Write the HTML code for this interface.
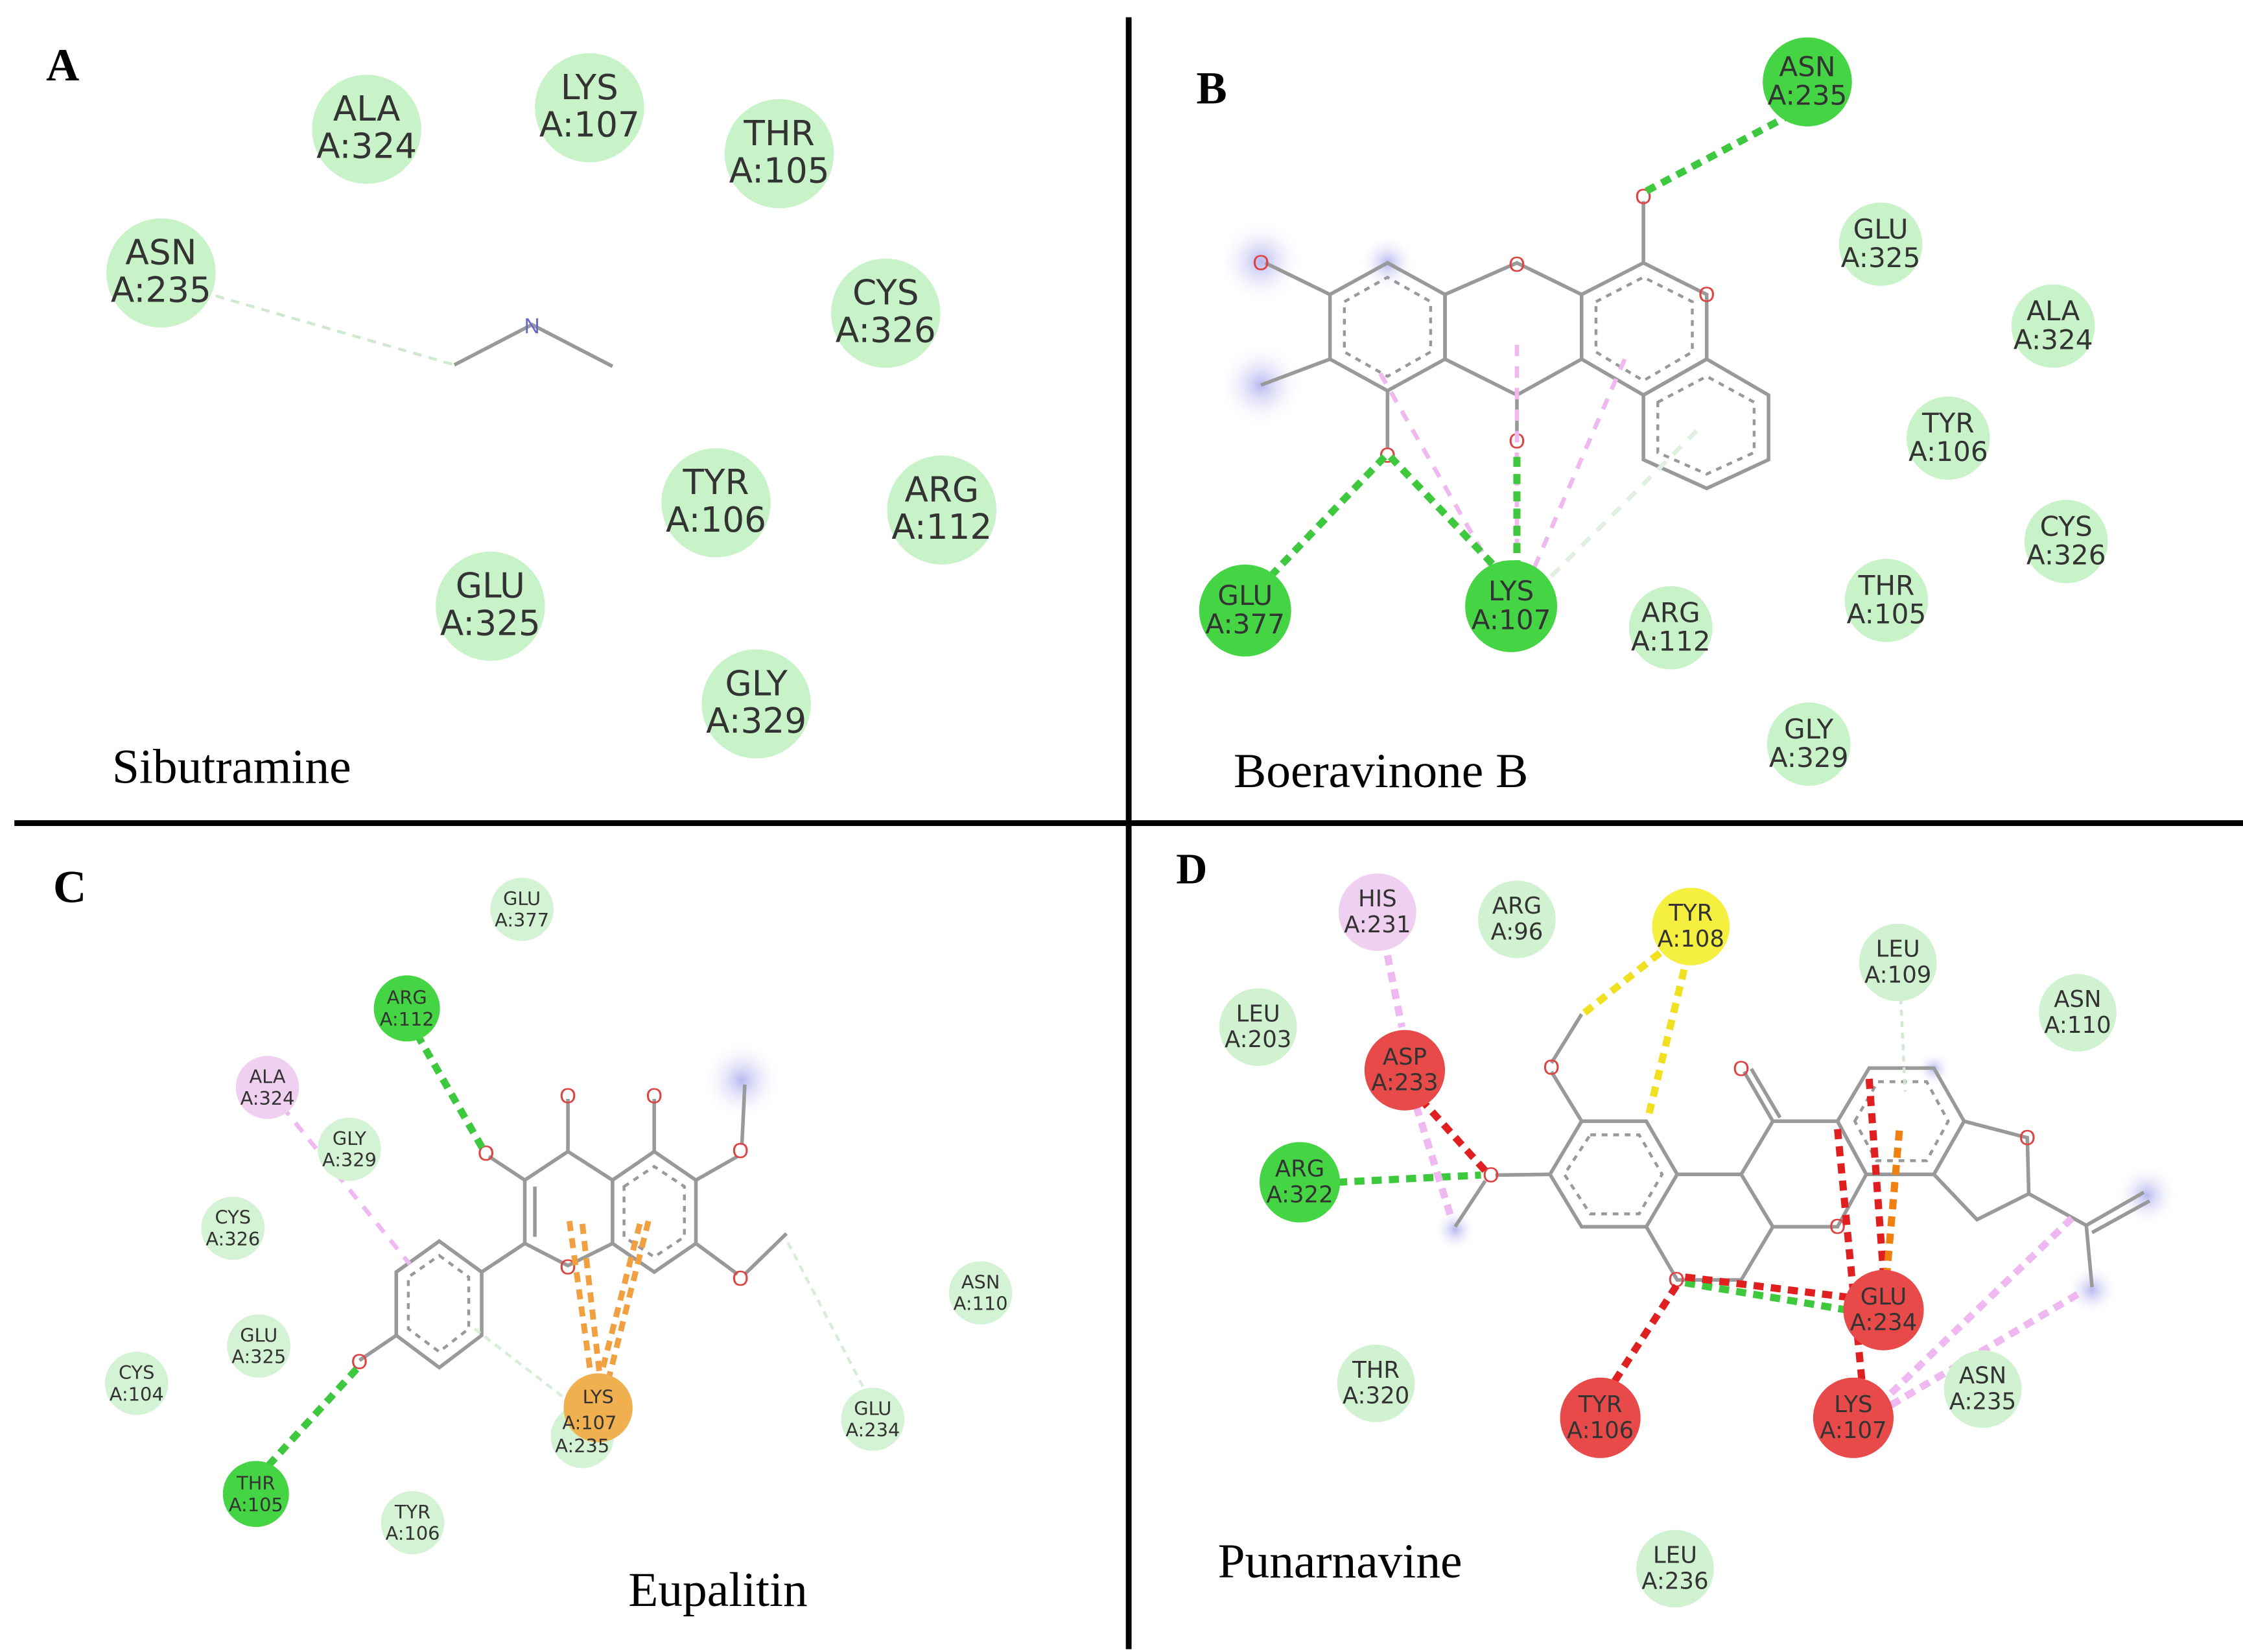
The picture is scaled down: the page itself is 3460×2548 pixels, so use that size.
<!DOCTYPE html>
<html><head><meta charset="utf-8">
<style>
html,body{margin:0;padding:0;background:#fff;}
svg{display:block;}
.t{font-family:"DejaVu Sans","Liberation Sans",sans-serif;fill:#333;text-anchor:middle;}
.lab{font-family:"Liberation Serif",serif;fill:#000;}
.b{stroke:#999;stroke-width:2.5;fill:none;}
.d{stroke:#999;stroke-width:2;fill:none;stroke-dasharray:4 4;}
.o{font-family:"Liberation Sans",sans-serif;fill:#d44;font-size:15px;text-anchor:middle;}
</style></head><body>
<svg width="3460" height="2548" viewBox="0 0 1560 1150" preserveAspectRatio="none" xmlns="http://www.w3.org/2000/svg">
<defs>
<radialGradient id="blu"><stop offset="0" stop-color="#b8b8f0"/><stop offset="1" stop-color="#fff" stop-opacity="0"/></radialGradient>
</defs>
<rect width="1560" height="1150" fill="#fff"/>
<line x1="785" y1="12" x2="785" y2="1148" stroke="#000" stroke-width="4"/>
<line x1="10" y1="573" x2="1560" y2="573" stroke="#000" stroke-width="4"/>

<!-- Panel A -->
<text class="lab" x="32" y="56" font-size="32" font-weight="bold">A</text>
<line x1="150" y1="206" x2="316" y2="254" stroke="#cfe8cf" stroke-width="2" stroke-dasharray="6 5"/>
<polyline points="316,254 370,226 426,255" class="b" stroke="#9a9ac8"/>
<text x="370" y="232" font-size="15" fill="#66c" text-anchor="middle" font-family="Liberation Sans">N</text>
<g font-size="24" class="t">
<circle cx="255" cy="90" r="38" fill="#c8f2c8"/><text x="255" y="84">ALA</text><text x="255" y="110">A:324</text>
<circle cx="410" cy="75" r="38" fill="#c8f2c8"/><text x="410" y="69">LYS</text><text x="410" y="95">A:107</text>
<circle cx="542" cy="107" r="38" fill="#c8f2c8"/><text x="542" y="101">THR</text><text x="542" y="127">A:105</text>
<circle cx="112" cy="190" r="38" fill="#c8f2c8"/><text x="112" y="184">ASN</text><text x="112" y="210">A:235</text>
<circle cx="616" cy="218" r="38" fill="#c8f2c8"/><text x="616" y="212">CYS</text><text x="616" y="238">A:326</text>
<circle cx="498" cy="350" r="38" fill="#c8f2c8"/><text x="498" y="344">TYR</text><text x="498" y="370">A:106</text>
<circle cx="655" cy="355" r="38" fill="#c8f2c8"/><text x="655" y="349">ARG</text><text x="655" y="375">A:112</text>
<circle cx="341" cy="422" r="38" fill="#c8f2c8"/><text x="341" y="416">GLU</text><text x="341" y="442">A:325</text>
<circle cx="526" cy="490" r="38" fill="#c8f2c8"/><text x="526" y="484">GLY</text><text x="526" y="510">A:329</text>
</g>
<text class="lab" x="78" y="545" font-size="34">Sibutramine</text>

<!-- Panel B -->
<text class="lab" x="832" y="72" font-size="32" font-weight="bold">B</text>
<circle cx="877" cy="182" r="30" fill="url(#blu)"/><circle cx="965" cy="183" r="20" fill="url(#blu)"/><circle cx="877" cy="268" r="30" fill="url(#blu)"/>
<polygon points="925,205 965,183 1005,205 1005,250 965,272 925,250" class="b"/>
<polygon points="1005,205 1055,183 1100,205 1100,250 1055,275 1005,250" class="b"/>
<polygon points="1100,205 1143,183 1187,205 1187,250 1143,275 1100,250" class="b"/>
<polygon points="1187,250 1230,275 1230,320 1187,340 1143,320 1143,275" class="b"/>
<polygon points="935,210 965,193 995,210 995,245 965,262 935,245" class="d"/>
<polygon points="1110,210 1143,193 1177,210 1177,245 1143,265 1110,245" class="d"/>
<polygon points="1153,280 1187,262 1220,280 1220,315 1187,330 1153,315" class="d"/>
<line x1="925" y1="205" x2="880" y2="183" class="b"/><line x1="925" y1="250" x2="877" y2="268" class="b"/>
<line x1="965" y1="272" x2="965" y2="312" class="b"/><line x1="1055" y1="275" x2="1055" y2="305" class="b"/>
<line x1="1143" y1="183" x2="1143" y2="140" class="b"/>
<text class="o" x="877" y="188">O</text><text class="o" x="1055" y="189">O</text><text class="o" x="1187" y="210">O</text>
<text class="o" x="965" y="322">O</text><text class="o" x="1055" y="312">O</text><text class="o" x="1143" y="142">O</text>
<g stroke="#f0b8f0" stroke-width="3" stroke-dasharray="8 7">
<line x1="960" y1="260" x2="1040" y2="400"/><line x1="1055" y1="240" x2="1055" y2="395"/><line x1="1130" y1="250" x2="1065" y2="400"/>
</g>
<line x1="1180" y1="300" x2="1075" y2="405" stroke="#dff0df" stroke-width="3" stroke-dasharray="8 7"/>
<g stroke="#3ec83e" stroke-width="5" stroke-dasharray="7 5">
<line x1="963" y1="318" x2="880" y2="405"/><line x1="967" y1="318" x2="1045" y2="400"/><line x1="1055" y1="318" x2="1055" y2="395"/><line x1="1145" y1="133" x2="1245" y2="80"/>
</g>
<g font-size="19" class="t">
<circle cx="1257" cy="57" r="31" fill="#44d444"/><text x="1257" y="53">ASN</text><text x="1257" y="73">A:235</text>
<circle cx="1308" cy="170" r="29" fill="#c8f2c8"/><text x="1308" y="166">GLU</text><text x="1308" y="186">A:325</text>
<circle cx="1428" cy="227" r="29" fill="#c8f2c8"/><text x="1428" y="223">ALA</text><text x="1428" y="243">A:324</text>
<circle cx="1355" cy="305" r="29" fill="#c8f2c8"/><text x="1355" y="301">TYR</text><text x="1355" y="321">A:106</text>
<circle cx="1437" cy="377" r="29" fill="#c8f2c8"/><text x="1437" y="373">CYS</text><text x="1437" y="393">A:326</text>
<circle cx="1312" cy="418" r="29" fill="#c8f2c8"/><text x="1312" y="414">THR</text><text x="1312" y="434">A:105</text>
<circle cx="1162" cy="437" r="29" fill="#c8f2c8"/><text x="1162" y="433">ARG</text><text x="1162" y="453">A:112</text>
<circle cx="1258" cy="518" r="29" fill="#c8f2c8"/><text x="1258" y="514">GLY</text><text x="1258" y="534">A:329</text>
<circle cx="866" cy="425" r="32" fill="#44d444"/><text x="866" y="421">GLU</text><text x="866" y="441">A:377</text>
<circle cx="1051" cy="422" r="32" fill="#44d444"/><text x="1051" y="418">LYS</text><text x="1051" y="438">A:107</text>
</g>
<text class="lab" x="858" y="548" font-size="34">Boeravinone  B</text>

<!-- Panel C -->
<text class="lab" x="37" y="628" font-size="32" font-weight="bold">C</text>
<circle cx="516" cy="752" r="28" fill="url(#blu)"/>
<polygon points="395,801.6 426,821.5 426,865.6 395,881 365,865.6 365,821.5" class="b"/>
<polygon points="426,821.5 455,801.6 484,821.5 484,865.6 455,885.5 426,865.6" class="b"/>
<polygon points="434,826 455,812 476,826 476,861 455,875 434,861" class="d"/>
<line x1="372" y1="826" x2="372" y2="861" class="b"/>
<polygon points="305.5,864 335,885.5 335,929.6 305.5,952 275.6,929.6 275.6,885.5" class="b"/>
<polygon points="305.5,874 326,889 326,925 305.5,941 284,925 284,889" class="d"/>
<line x1="335" y1="885.5" x2="365" y2="865.6" class="b"/>
<line x1="395" y1="801.6" x2="395" y2="765" class="b"/><line x1="455" y1="801.6" x2="455" y2="765" class="b"/>
<line x1="365" y1="821.5" x2="340" y2="805" class="b"/>
<line x1="484" y1="821.5" x2="513" y2="805" class="b"/><line x1="516" y1="797" x2="518" y2="755" class="b"/>
<line x1="484" y1="865.6" x2="513" y2="887" class="b"/><line x1="518" y1="887" x2="547" y2="858.7" class="b"/>
<line x1="275.6" y1="929.6" x2="250" y2="947" class="b"/>
<text class="o" x="395" y="768">O</text><text class="o" x="455" y="768">O</text><text class="o" x="338" y="808">O</text>
<text class="o" x="515" y="806">O</text><text class="o" x="515" y="895">O</text><text class="o" x="395" y="887">O</text><text class="o" x="250" y="953">O</text>
<g stroke="#f0a040" stroke-width="4" stroke-dasharray="7 5">
<line x1="396" y1="850" x2="412" y2="965"/><line x1="451" y1="850" x2="422" y2="965"/><line x1="405" y1="852" x2="418" y2="965"/><line x1="445" y1="852" x2="416" y2="965"/>
</g>
<line x1="196" y1="770" x2="285" y2="880" stroke="#f0b8f0" stroke-width="3" stroke-dasharray="8 7"/>
<line x1="548" y1="865" x2="600" y2="965" stroke="#d8ecd8" stroke-width="2" stroke-dasharray="5 4"/>
<line x1="330" y1="925" x2="395" y2="975" stroke="#d8ecd8" stroke-width="2" stroke-dasharray="5 4"/>
<g stroke="#3ec83e" stroke-width="5" stroke-dasharray="7 5">
<line x1="290" y1="720" x2="336" y2="800"/><line x1="248" y1="953" x2="185" y2="1022"/>
</g>
<g font-size="13" class="t">
<circle cx="363" cy="633" r="22" fill="#d4f2d4"/><text x="363" y="630">GLU</text><text x="363" y="645">A:377</text>
<circle cx="283" cy="702" r="23" fill="#44d444"/><text x="283" y="699">ARG</text><text x="283" y="714">A:112</text>
<circle cx="186" cy="757" r="22" fill="#f0d0f0"/><text x="186" y="754">ALA</text><text x="186" y="769">A:324</text>
<circle cx="243" cy="800" r="22" fill="#d4f2d4"/><text x="243" y="797">GLY</text><text x="243" y="812">A:329</text>
<circle cx="162" cy="855" r="22" fill="#d4f2d4"/><text x="162" y="852">CYS</text><text x="162" y="867">A:326</text>
<circle cx="180" cy="937" r="22" fill="#d4f2d4"/><text x="180" y="934">GLU</text><text x="180" y="949">A:325</text>
<circle cx="95" cy="963" r="22" fill="#d4f2d4"/><text x="95" y="960">CYS</text><text x="95" y="975">A:104</text>
<circle cx="178" cy="1040" r="23" fill="#44d444"/><text x="178" y="1037">THR</text><text x="178" y="1052">A:105</text>
<circle cx="287" cy="1060" r="22" fill="#d4f2d4"/><text x="287" y="1057">TYR</text><text x="287" y="1072">A:106</text>
<circle cx="682" cy="900" r="22" fill="#d4f2d4"/><text x="682" y="897">ASN</text><text x="682" y="912">A:110</text>
<circle cx="607" cy="988" r="22" fill="#d4f2d4"/><text x="607" y="985">GLU</text><text x="607" y="1000">A:234</text>
<circle cx="405" cy="1000" r="22" fill="#d4f2d4"/>
<circle cx="416" cy="980" r="24" fill="#f0b050"/><text x="416" y="977">LYS</text><text x="410" y="995">A:107</text><text x="405" y="1011">A:235</text>
</g>
<text class="lab" x="437" y="1118" font-size="34">Eupalitin</text>

<!-- Panel D -->
<text class="lab" x="818" y="615" font-size="30" font-weight="bold">D</text>
<circle cx="1012" cy="856" r="15" fill="url(#blu)"/><circle cx="1493" cy="832" r="22" fill="url(#blu)"/><circle cx="1455" cy="898" r="18" fill="url(#blu)"/><circle cx="1345" cy="744" r="12" fill="url(#blu)"/>
<!-- ring A -->
<polygon points="1100,780.5 1145,780.5 1166.5,817.5 1145,854 1100,854 1078,817.5" class="b"/>
<polygon points="1106,790 1140,790 1156,817.5 1140,845 1106,845 1088,817.5" class="d"/>
<!-- ring 2 -->
<polyline points="1166.5,817.5 1211,817.5 1233,854 1211,891 1166.5,891 1145,854" class="b"/>
<!-- ring 3 -->
<polyline points="1211,817.5 1233,780.5 1278,780.5 1298,817.5 1278,854 1233,854" class="b"/>
<!-- ring 4 -->
<polygon points="1278,780.5 1300,743.5 1345,743.5 1366,780.5 1345,817.5 1298,817.5" class="b"/>
<polygon points="1290,780.5 1306,753 1340,753 1355,780.5 1340,808 1305,808" class="d"/>
<!-- furan -->
<polyline points="1366,780.5 1410,792 1411,831 1375,849 1345,817.5" class="b"/>
<polyline points="1411,831 1451,853 1455,896" class="b"/>
<line x1="1451" y1="853" x2="1491" y2="830" class="b"/><line x1="1455" y1="858" x2="1495" y2="836" class="b"/>
<line x1="1233" y1="780.5" x2="1213" y2="746" class="b"/><line x1="1238" y1="778" x2="1218" y2="744" class="b"/>
<line x1="1100" y1="780.5" x2="1079" y2="746" class="b"/><line x1="1079" y1="740" x2="1100" y2="706" class="b"/>
<line x1="1078" y1="817.5" x2="1040" y2="818" class="b"/><line x1="1033" y1="822" x2="1012" y2="854" class="b"/>
<text class="o" x="1079" y="748">O</text><text class="o" x="1037" y="823">O</text><text class="o" x="1211" y="749">O</text>
<text class="o" x="1410" y="797">O</text><text class="o" x="1278" y="859">O</text><text class="o" x="1166" y="896">O</text>
<g stroke-width="5" stroke-dasharray="7 5">
<line x1="1102" y1="705" x2="1165" y2="655" stroke="#f0e020"/><line x1="1147" y1="775" x2="1172" y2="672" stroke="#f0e020"/>
<line x1="930" y1="823" x2="1030" y2="818" stroke="#3ec83e"/><line x1="1172" y1="893" x2="1285" y2="912" stroke="#3ec83e"/>
<line x1="988" y1="765" x2="1033" y2="815" stroke="#e02020"/><line x1="1166" y1="895" x2="1122" y2="963" stroke="#e02020"/>
<line x1="1172" y1="889" x2="1285" y2="903" stroke="#e02020"/>
<line x1="1300" y1="751" x2="1310" y2="888" stroke="#e02020"/><line x1="1278" y1="786" x2="1295" y2="962" stroke="#e02020"/>
<line x1="1321" y1="787" x2="1312" y2="890" stroke="#f08010"/>
<line x1="1441" y1="848" x2="1310" y2="975" stroke="#f0b8f0"/><line x1="1445" y1="901" x2="1312" y2="980" stroke="#f0b8f0"/>
<line x1="965" y1="665" x2="975" y2="715" stroke="#f0b8f0"/><line x1="985" y1="770" x2="1010" y2="850" stroke="#f0b8f0"/>
</g>
<line x1="1322" y1="695" x2="1325" y2="760" stroke="#cfe8cf" stroke-width="2" stroke-dasharray="4 4"/>
<g font-size="16" class="t">
<circle cx="958" cy="635" r="27" fill="#f0d0f0"/><text x="958" y="631">HIS</text><text x="958" y="649">A:231</text>
<circle cx="1055" cy="640" r="27" fill="#d0f2d0"/><text x="1055" y="636">ARG</text><text x="1055" y="654">A:96</text>
<circle cx="1176" cy="645" r="27" fill="#f5f040"/><text x="1176" y="641">TYR</text><text x="1176" y="659">A:108</text>
<circle cx="1320" cy="670" r="27" fill="#d0f2d0"/><text x="1320" y="666">LEU</text><text x="1320" y="684">A:109</text>
<circle cx="1445" cy="705" r="27" fill="#d0f2d0"/><text x="1445" y="701">ASN</text><text x="1445" y="719">A:110</text>
<circle cx="875" cy="715" r="27" fill="#d0f2d0"/><text x="875" y="711">LEU</text><text x="875" y="729">A:203</text>
<circle cx="977" cy="745" r="28" fill="#e84a4a"/><text x="977" y="741">ASP</text><text x="977" y="759">A:233</text>
<circle cx="904" cy="823" r="28" fill="#44d444"/><text x="904" y="819">ARG</text><text x="904" y="837">A:322</text>
<circle cx="957" cy="963" r="27" fill="#d0f2d0"/><text x="957" y="959">THR</text><text x="957" y="977">A:320</text>
<circle cx="1113" cy="987" r="28" fill="#e84a4a"/><text x="1113" y="983">TYR</text><text x="1113" y="1001">A:106</text>
<circle cx="1310" cy="912" r="28" fill="#e84a4a"/><text x="1310" y="908">GLU</text><text x="1310" y="926">A:234</text>
<circle cx="1289" cy="987" r="28" fill="#e84a4a"/><text x="1289" y="983">LYS</text><text x="1289" y="1001">A:107</text>
<circle cx="1379" cy="967" r="27" fill="#d0f2d0"/><text x="1379" y="963">ASN</text><text x="1379" y="981">A:235</text>
<circle cx="1165" cy="1092" r="27" fill="#d0f2d0"/><text x="1165" y="1088">LEU</text><text x="1165" y="1106">A:236</text>
</g>
<text class="lab" x="847" y="1098" font-size="34">Punarnavine</text>
</svg>
</body></html>
